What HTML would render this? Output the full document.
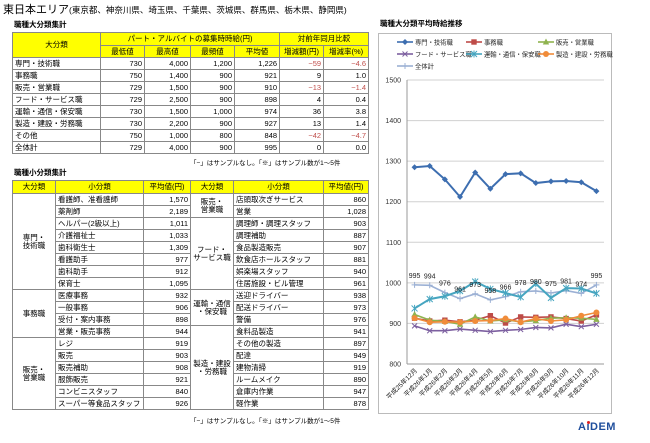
<!DOCTYPE html>
<html><head><meta charset="utf-8">
<style>
body{margin:0;width:650px;height:443px;background:#fff;position:relative;overflow:hidden;font-family:"Liberation Sans","Noto Sans CJK JP",sans-serif;color:#000}
.abs{position:absolute}
table{border-collapse:collapse;table-layout:fixed;position:absolute;font-size:7.5px;line-height:1}
td,th{border:1px solid #888;padding:0 2px;white-space:nowrap;overflow:hidden}
th{background:#ffff00;font-weight:normal;text-align:center}
td.n{text-align:right}
td.r{color:#c0504d}
table.t{border:1.5px solid #000}
.c{text-align:center}
.bt td{border-top:1.5px solid #000}
</style></head><body>
<div class="abs" style="left:3px;top:1px;font-size:11px">東日本エリア<span style="font-size:8.5px">(東京都、神奈川県、埼玉県、千葉県、茨城県、群馬県、栃木県、静岡県)</span></div>
<div class="abs" style="left:14px;top:19px;font-size:7.5px;font-weight:bold">職種大分類集計</div>
<table class="t" style="left:12px;top:32px;width:356px">
<colgroup><col style="width:88px"><col style="width:44px"><col style="width:46px"><col style="width:44px"><col style="width:45px"><col style="width:44px"><col style="width:45px"></colgroup>
<tr style="height:13px"><th rowspan="2">大分類</th><th colspan="4">パート・アルバイトの募集時時給(円)</th><th colspan="2">対前年同月比較</th></tr>
<tr style="height:12px"><th>最低値</th><th>最高値</th><th>最頻値</th><th>平均値</th><th>増減額(円)</th><th>増減率(%)</th></tr>
<tr style="height:12px"><td>専門・技術職</td><td class="n">730</td><td class="n">4,000</td><td class="n">1,200</td><td class="n">1,226</td><td class="n r">−59</td><td class="n r">−4.6</td></tr>
<tr style="height:12px"><td>事務職</td><td class="n">750</td><td class="n">1,400</td><td class="n">900</td><td class="n">921</td><td class="n">9</td><td class="n">1.0</td></tr>
<tr style="height:12px"><td>販売・営業職</td><td class="n">729</td><td class="n">1,500</td><td class="n">900</td><td class="n">910</td><td class="n r">−13</td><td class="n r">−1.4</td></tr>
<tr style="height:12px"><td>フード・サービス職</td><td class="n">729</td><td class="n">2,500</td><td class="n">900</td><td class="n">898</td><td class="n">4</td><td class="n">0.4</td></tr>
<tr style="height:12px"><td>運輸・通信・保安職</td><td class="n">730</td><td class="n">1,500</td><td class="n">1,000</td><td class="n">974</td><td class="n">36</td><td class="n">3.8</td></tr>
<tr style="height:12px"><td>製造・建設・労務職</td><td class="n">730</td><td class="n">2,200</td><td class="n">900</td><td class="n">927</td><td class="n">13</td><td class="n">1.4</td></tr>
<tr style="height:12px"><td>その他</td><td class="n">750</td><td class="n">1,000</td><td class="n">800</td><td class="n">848</td><td class="n r">−42</td><td class="n r">−4.7</td></tr>
<tr style="height:12px" class="bt"><td>全体計</td><td class="n">729</td><td class="n">4,000</td><td class="n">900</td><td class="n">995</td><td class="n">0</td><td class="n">0.0</td></tr>
</table>
<div class="abs" style="left:190px;top:157px;font-size:6.5px">「−」はサンプルなし。「※」はサンプル数が1〜5件</div>

<div class="abs" style="left:14px;top:167px;font-size:7.5px;font-weight:bold">職種小分類集計</div>
<table class="t" style="left:12px;top:180px;width:356px">
<colgroup><col style="width:43px"><col style="width:88px"><col style="width:47px"><col style="width:43px"><col style="width:90px"><col style="width:45px"></colgroup>
<tr style="height:13px"><th>大分類</th><th>小分類</th><th>平均値(円)</th><th>大分類</th><th>小分類</th><th>平均値(円)</th></tr>
<tr style="height:12px"><td rowspan="8" class="c">専門・<br>技術職</td><td>看護師、准看護師</td><td class="n">1,570</td><td rowspan="2" class="c">販売・<br>営業職</td><td>店頭取次ぎサービス</td><td class="n">860</td></tr>
<tr style="height:12px"><td>薬剤師</td><td class="n">2,189</td><td>営業</td><td class="n">1,028</td></tr>
<tr style="height:12px"><td>ヘルパー(2級以上)</td><td class="n">1,011</td><td rowspan="6" class="c" style="border-top:1.5px solid #000">フード・<br>サービス職</td><td style="border-top:1.5px solid #000">調理師・調理スタッフ</td><td class="n" style="border-top:1.5px solid #000">903</td></tr>
<tr style="height:12px"><td>介護福祉士</td><td class="n">1,033</td><td>調理補助</td><td class="n">887</td></tr>
<tr style="height:12px"><td>歯科衛生士</td><td class="n">1,309</td><td>食品製造販売</td><td class="n">907</td></tr>
<tr style="height:12px"><td>看護助手</td><td class="n">977</td><td>飲食店ホールスタッフ</td><td class="n">881</td></tr>
<tr style="height:12px"><td>歯科助手</td><td class="n">912</td><td>娯楽場スタッフ</td><td class="n">940</td></tr>
<tr style="height:12px"><td>保育士</td><td class="n">1,095</td><td>住居施設・ビル管理</td><td class="n">961</td></tr>
<tr style="height:12px" class="bt"><td rowspan="4" class="c">事務職</td><td>医療事務</td><td class="n">932</td><td rowspan="3" class="c">運輸・通信<br>・保安職</td><td>送迎ドライバー</td><td class="n">938</td></tr>
<tr style="height:12px"><td>一般事務</td><td class="n">906</td><td>配送ドライバー</td><td class="n">973</td></tr>
<tr style="height:12px"><td>受付・案内事務</td><td class="n">898</td><td>警備</td><td class="n">976</td></tr>
<tr style="height:12px"><td>営業・販売事務</td><td class="n">944</td><td rowspan="7" class="c" style="border-top:1.5px solid #000">製造・建設<br>・労務職</td><td style="border-top:1.5px solid #000">食料品製造</td><td class="n" style="border-top:1.5px solid #000">941</td></tr>
<tr style="height:12px" class="bt"><td rowspan="6" class="c">販売・<br>営業職</td><td>レジ</td><td class="n">919</td><td style="border-top:1px solid #888">その他の製造</td><td class="n" style="border-top:1px solid #888">897</td></tr>
<tr style="height:12px"><td>販売</td><td class="n">903</td><td>配達</td><td class="n">949</td></tr>
<tr style="height:12px"><td>販売補助</td><td class="n">908</td><td>建物清掃</td><td class="n">919</td></tr>
<tr style="height:12px"><td>服飾販売</td><td class="n">921</td><td>ルームメイク</td><td class="n">890</td></tr>
<tr style="height:12px"><td>コンビニスタッフ</td><td class="n">840</td><td>倉庫内作業</td><td class="n">947</td></tr>
<tr style="height:12px"><td>スーパー等食品スタッフ</td><td class="n">926</td><td>軽作業</td><td class="n">878</td></tr>
</table>
<div class="abs" style="left:190px;top:415px;font-size:6.5px">「−」はサンプルなし。「※」はサンプル数が1〜5件</div>

<div class="abs" style="left:380px;top:18px;font-size:7.5px;font-weight:bold">職種大分類平均時給推移</div>
<svg id="chart" class="abs" style="left:0;top:0" width="650" height="443">
<rect x="378.5" y="33.5" width="233" height="380" fill="none" stroke="#bbb"/>
</svg>
<div class="abs" style="left:578px;top:421px;font-size:11px;font-weight:bold;color:#1f4e9c;letter-spacing:0.5px">A<span style="color:#1f4e9c;position:relative">i<span style="position:absolute;left:0.5px;top:0;width:3px;height:3px;background:#e02020;border-radius:50%"></span></span>DEM</div>
<script>
const categories=["平成25年12月","平成26年1月","平成26年2月","平成26年3月","平成26年4月","平成26年5月","平成26年6月","平成26年7月","平成26年8月","平成26年9月","平成26年10月","平成26年11月","平成26年12月"];
const yTicks=[800,900,1000,1100,1200,1300,1400,1500];
const senmon=[1285,1288,1255,1212,1272,1232,1268,1270,1246,1250,1251,1248,1226];
const jimu=[913,906,908,904,908,919,901,916,915,916,912,906,921];
const hanbai=[922,908,905,898,916,906,909,904,907,913,914,913,910];
const food=[894,882,882,886,883,880,883,885,890,889,898,892,898];
const unyu=[937,960,967,980,1003,985,975,965,998,963,987,986,974];
const seizo=[913,903,904,903,906,907,912,903,912,906,909,919,927];
const total=[995,994,976,961,973,958,966,978,980,975,981,974,995];
const seriesNames=["専門・技術職","事務職","販売・営業職","フード・サービス職","運輸・通信・保安職","製造・建設・労務職","全体計"];
const svg=document.getElementById('chart');const NS="http://www.w3.org/2000/svg";
const x0=407,x1=604,yMin=800,yMax=1500,yb=364,yt=80;
const X=i=>x0+(x1-x0)*(i+0.5)/categories.length;
const Y=v=>yb-(v-yMin)/(yMax-yMin)*(yb-yt);
function mk(t,a,p){const e=document.createElementNS(NS,t);for(const k in a)e.setAttribute(k,a[k]);(p||svg).appendChild(e);return e;}
yTicks.forEach(v=>{
 const g=mk('line',{x1:x0,x2:x1,y1:Y(v),y2:Y(v),stroke:'#d0d0d0','stroke-width':1});
 
 
 const t=mk('text',{x:x0-6,y:Y(v)+2.5,'text-anchor':'end','font-size':7,fill:'#333'});t.textContent=v;
 
 
});
mk('line',{x1:x0,x2:x0,y1:yt,y2:yb,stroke:'#999'});
mk('line',{x1:x0,x2:x1,y1:yb,y2:yb,stroke:'#999'});
categories.forEach((c,i)=>{
 const t=mk('text',{x:X(i)+3,y:yb+7,'text-anchor':'end','font-size':6.5,fill:'#222',transform:`rotate(-45 ${X(i)+3} ${yb+7})`,'font-family':'"Liberation Sans","Noto Sans CJK JP",sans-serif'});t.textContent=c;
 
 
});
const seriesData=[senmon,jimu,hanbai,food,unyu,seizo,total];
const colors=["#3d6eb0","#be4b48","#8fb34f","#7d60a0","#46a5c0","#f08c3a","#9bb0d4"];
const markers=["diamond","square","triangle","x","star","circle","plus"];
function marker(type,x,y,c,p){
 if(type=="diamond")return mk('path',{d:`M${x} ${y-3}L${x+3} ${y}L${x} ${y+3}L${x-3} ${y}Z`,fill:c},p);
 if(type=="square")return mk('rect',{x:x-2.7,y:y-2.7,width:5.4,height:5.4,fill:c},p);
 if(type=="triangle")return mk('path',{d:`M${x} ${y-3.5}L${x+3.2} ${y+2.5}L${x-3.2} ${y+2.5}Z`,fill:c},p);
 if(type=="circle")return mk('circle',{cx:x,cy:y,r:3,fill:c},p);
 if(type=="x")return mk('path',{d:`M${x-2.5} ${y-2.5}L${x+2.5} ${y+2.5}M${x-2.5} ${y+2.5}L${x+2.5} ${y-2.5}`,stroke:c,'stroke-width':1},p);
 if(type=="star")return mk('path',{d:`M${x-3} ${y-3}L${x+3} ${y+3}M${x-3} ${y+3}L${x+3} ${y-3}M${x} ${y-3.5}L${x} ${y+3.5}`,stroke:c,'stroke-width':1},p);
 return mk('path',{d:`M${x-3} ${y}L${x+3} ${y}M${x} ${y-3}L${x} ${y+3}`,stroke:c,'stroke-width':1},p);
}
const order=[6,0,4,3,1,2,5];
order.forEach(s=>{
 const g=mk('g',{});
 
 
 const d=seriesData[s];
 const pl=mk('polyline',{points:d.map((v,i)=>X(i)+','+Y(v)).join(' '),fill:'none',stroke:colors[s],'stroke-width':s==0||s==4?2:1.6},g);
 
 
 d.forEach((v,i)=>{const m=marker(markers[s],X(i),Y(v),colors[s],g);
  
  });
});
total.forEach((v,i)=>{
 const t=mk('text',{x:X(i),y:Y(v)-7,'text-anchor':'middle','font-size':7,fill:'#222'});t.textContent=v;
 
 
});
const legPos=[[397,42],[466,42],[538,42],[397,54],[466,54],[538,54],[397,66]];
seriesNames.forEach((n,s)=>{
 const g=mk('g',{});
 
 
 const [lx,ly]=legPos[s];
 mk('line',{x1:lx,x2:lx+16,y1:ly,y2:ly,stroke:colors[s],'stroke-width':1.6},g);
 marker(markers[s],lx+8,ly,colors[s],g);
 const t=mk('text',{x:lx+18,y:ly+2.5,'font-size':6.3,fill:'#222'},g);t.textContent=n;
});
</script>
</body></html>
